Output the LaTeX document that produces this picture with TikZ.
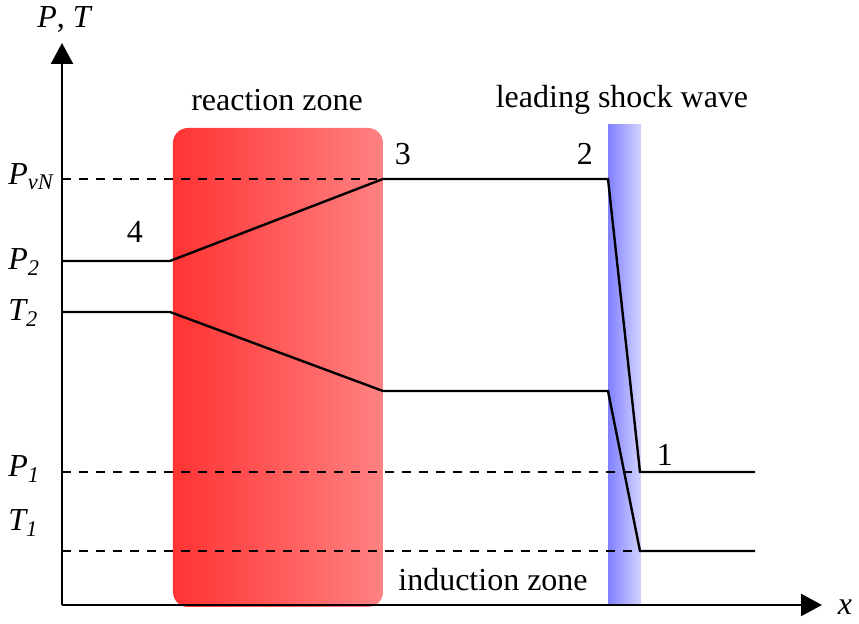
\documentclass[tikz,border=0pt]{standalone}
\usepackage{fontspec}
\setmainfont{Liberation Serif}
\usepackage{tikz}
\usetikzlibrary{arrows.meta,positioning,calc}
\definecolor{reactL}{RGB}{255,51,51}
\definecolor{reactR}{RGB}{255,130,130}
\definecolor{shockL}{RGB}{128,128,255}
\definecolor{shockR}{RGB}{212,212,255}
\tikzset{
  axisln/.style={-{Triangle[length=10.5pt,width=11pt]}, line width=1.2pt, black},
  profln/.style={line width=1.2pt, line join=miter},
  levelln/.style={dash pattern=on 4.5pt off 4pt, line width=1.2pt},
  lbl/.style={font=\fontsize{16}{19}\selectfont, inner sep=0pt},
  lvl/.style={lbl, anchor=west},
}

\begin{document}
\begin{tikzpicture}[x=0.5pt, y=0.5pt]
    \useasboundingbox (-62,-19) rectangle (797,605);
    \coordinate (O) at (0,0);
    \coordinate (Xend) at (760,0);
    \coordinate (Yend) at (0,562);
    % zones
    \shade[left color=reactL, right color=reactR, rounded corners=7.5pt]
      (111,-2) rectangle (321,477);
    \shade[left color=shockL, right color=shockR] (546,0) rectangle (579,480);
    % axes
    \draw[axisln] (O) -- (Xend);
    \draw[axisln] (O) -- (Yend);
    \node[lbl] (axT) at (3,586) {\textit{P}, \textit{T}};
    \node[lbl] (axX) at (783,-2) {\textit{x}};
    % levels
    \coordinate (vN0) at (0,426);
    \coordinate (vN1) at (321,426);
    \coordinate (p10) at (0,133);
    \coordinate (p11) at (578,133);
    \coordinate (t10) at (0,54);
    \coordinate (t11) at (578,54);
    \draw[levelln] (vN0) -- (vN1);
    \draw[levelln] (p10) -- (p11);
    \draw[levelln] (t10) -- (t11);
    \node[lvl] (lvN) at (-54,428) {\textit{P\textsubscript{vN}}};
    \node[lvl] (lP2) at (-54,343) {\textit{P\textsubscript{2}}};
    \node[lvl] (lT2) at (-54,292) {\textit{T\textsubscript{2}}};
    \node[lvl] (lP1) at (-54,136) {\textit{P\textsubscript{1}}};
    \node[lvl] (lT1) at (-54,82) {\textit{T\textsubscript{1}}};
    % pressure profile
    \coordinate (pa) at (0,344);
    \coordinate (pb) at (108,344);
    \coordinate (pc) at (321,426);
    \coordinate (pd) at (546,426);
    \coordinate (pe) at (578,133);
    \coordinate (pf) at (693,133);
    \draw[profln] (pa) -- (pb) -- (pc) -- (pd) -- (pe) -- (pf);
    % temperature profile
    \coordinate (ta) at (0,293);
    \coordinate (tb) at (108,293);
    \coordinate (tc) at (321,214);
    \coordinate (td) at (546,214);
    \coordinate (te) at (578,54);
    \coordinate (tf) at (693,54);
    \draw[profln] (ta) -- (tb) -- (tc) -- (td) -- (te) -- (tf);
    % states
    \node[lbl] (s4) at (73,373) {4};
    \node[lbl] (s3) at (341,451) {3};
    \node[lbl] (s2) at (523,451) {2};
    \node[lbl] (s1) at (603,150) {1};
    % zone names
    \node[lbl] (rz) at (215,505) {reaction zone};
    \node[lbl] (sw) at (560,505) {leading shock wave};
    \node[lbl] (iz) at (431,25) {induction zone};
\end{tikzpicture}
\end{document}
